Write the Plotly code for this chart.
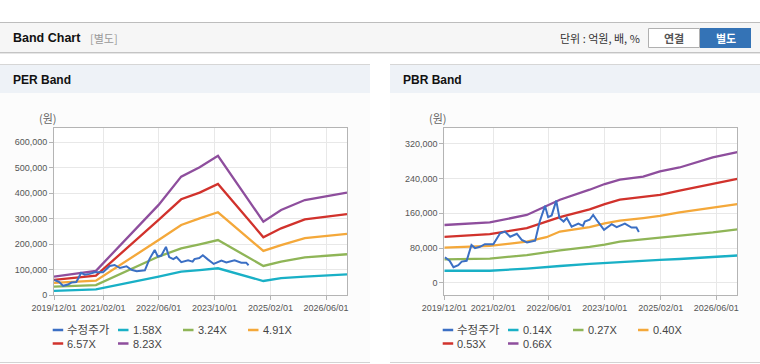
import plotly.graph_objects as go

W, H = 760, 364

# ---------------- data ----------------
tick_dates = ['2019-12-01', '2021-02-01', '2022-06-01', '2023-10-01', '2025-02-01', '2026-06-01']
tick_labels = ['2019/12/01', '2021/02/01', '2022/06/01', '2023/10/01', '2025/02/01', '2026/06/01']

price_dates = ['2019-12-06', '2020-01-16', '2020-02-19', '2020-04-01', '2020-05-01', '2020-06-13',
               '2020-07-25', '2020-08-25', '2020-10-07', '2020-11-19', '2021-02-01', '2021-04-01',
               '2021-05-13', '2021-06-28', '2021-08-25', '2021-10-07', '2021-11-22', '2022-02-01',
               '2022-03-13', '2022-04-28', '2022-05-25', '2022-06-25', '2022-08-04', '2022-09-01',
               '2022-10-07', '2022-11-04', '2022-12-16', '2023-02-13', '2023-03-25', '2023-04-10',
               '2023-05-22', '2023-06-22', '2023-08-04', '2023-09-25', '2023-12-01', '2024-01-13',
               '2024-03-25', '2024-05-22', '2024-07-04', '2024-07-25']
price_values = [59000, 51000, 36000, 41000, 49000, 51000,
                87000, 80000, 83000, 89000, 89000, 114000,
                118000, 106000, 113000, 99000, 93000, 97000,
                141000, 177000, 151000, 155000, 189000, 149000,
                141000, 149000, 129000, 136000, 131000, 141000,
                145000, 156000, 140000, 122000, 135000, 128000,
                136000, 127000, 127000, 117000]

per_dates = ['2019-12-01', '2020-12-01', '2022-06-01', '2022-12-15', '2023-05-25', '2023-11-01',
             '2024-12-01', '2025-05-05', '2025-11-28', '2026-12-01']
per_158 = [16000, 22000, 72000, 92000, 98000, 105000, 55000, 66000, 72000, 81000]
per_324 = [33000, 39000, 151000, 183000, 199000, 216000, 114000, 131000, 148000, 160000]
per_491 = [48000, 56000, 216000, 275000, 301000, 325000, 173000, 196000, 223000, 240000]
per_657 = [59000, 76000, 295000, 376000, 402000, 436000, 227000, 262000, 297000, 318000]
per_823 = [72000, 95000, 354000, 465000, 502000, 547000, 288000, 334000, 373000, 402000]

pbr_dates = ['2019-12-01', '2021-01-01', '2021-11-20', '2022-05-10', '2022-09-05', '2023-05-22',
             '2023-10-01', '2024-02-10', '2024-09-01', '2025-01-25', '2025-07-15', '2026-05-01',
             '2026-12-01']
pbr_014 = [28000, 28000, 33000, 37000, 39000, 44000, 46000, 49000, 51000, 53000, 55000, 59000, 63000]
pbr_027 = [54000, 56000, 64000, 71000, 75000, 83000, 88000, 95000, 100000, 104000, 109000, 116000, 123000]
pbr_040 = [81000, 85000, 95000, 105000, 118000, 128000, 137000, 143000, 149000, 154000, 162000, 172000, 181000]
pbr_053 = [106000, 112000, 126000, 140000, 151000, 169000, 181000, 191000, 197000, 202000, 212000, 227000, 239000]
pbr_066 = [133000, 139000, 156000, 177000, 191000, 214000, 227000, 237000, 244000, 256000, 265000, 288000, 300000]

per_labels = ['수정주가', '1.58X', '3.24X', '4.91X', '6.57X', '8.23X']
pbr_labels = ['수정주가', '0.14X', '0.27X', '0.40X', '0.53X', '0.66X']
colors = ['#3b6fc4', '#19b0c6', '#8fb557', '#f4a83a', '#d1322c', '#8e4e9d']

per_y_ticks = [0, 100000, 200000, 300000, 400000, 500000, 600000]
pbr_y_ticks = [0, 80000, 160000, 240000, 320000]

# ---------------- helpers ----------------
def px(x):
    return x / W

def py(y):
    return 1 - y / H

FONT = 'Liberation Sans, Noto Sans CJK KR, sans-serif'
KFONT = 'Noto Sans CJK KR, Liberation Sans, sans-serif'

fig = go.Figure()

per_series = [per_158, per_324, per_491, per_657, per_823]
pbr_series = [pbr_014, pbr_027, pbr_040, pbr_053, pbr_066]

for vals, c in zip(per_series, colors[1:]):
    fig.add_trace(go.Scatter(x=per_dates, y=vals, mode='lines', line=dict(color=c, width=2.3),
                             xaxis='x', yaxis='y', showlegend=False, hoverinfo='skip'))
fig.add_trace(go.Scatter(x=price_dates, y=price_values, mode='lines', line=dict(color=colors[0], width=2),
                         xaxis='x', yaxis='y', showlegend=False, hoverinfo='skip'))

for vals, c in zip(pbr_series, colors[1:]):
    fig.add_trace(go.Scatter(x=pbr_dates, y=vals, mode='lines', line=dict(color=c, width=2.3),
                             xaxis='x2', yaxis='y2', showlegend=False, hoverinfo='skip'))
fig.add_trace(go.Scatter(x=price_dates, y=price_values, mode='lines', line=dict(color=colors[0], width=2),
                         xaxis='x2', yaxis='y2', showlegend=False, hoverinfo='skip'))

shapes = []
annotations = []

def rect(x0, y0, x1, y1, fill, line=None, layer='below'):
    shapes.append(dict(type='rect', xref='paper', yref='paper', x0=px(x0), x1=px(x1), y0=py(y1), y1=py(y0),
                       fillcolor=fill, line=dict(width=1 if line else 0, color=line or fill), layer=layer))

def hline(x0, x1, y, color, width=1, layer='below'):
    shapes.append(dict(type='line', xref='paper', yref='paper', x0=px(x0), x1=px(x1), y0=py(y), y1=py(y),
                       line=dict(color=color, width=width), layer=layer))

def text(x, y, s, size=11, color='#333', bold=False, anchor='left', family=KFONT):
    if bold:
        s = '<b>' + s + '</b>'
    annotations.append(dict(xref='paper', yref='paper', x=px(x), y=py(y), text=s, showarrow=False,
                            xanchor=anchor, yanchor='middle', font=dict(size=size, color=color, family=family)))

# header
rect(0, 22.5, 760, 52.5, '#f6f6f6')
hline(0, 760, 22.5, '#bdbdbd')
hline(0, 760, 52.5, '#c4c4c4')
hline(0, 760, 53.5, '#e6e6e6')
text(11, 38, 'Band Chart', size=12.5, color='#111', bold=True, family=FONT)
text(88, 38.5, '[별도]', size=11, color='#999')
text(642, 38.5, '단위 : 억원, 배, %', size=11, color='#333', anchor='right')
rect(648.5, 28.5, 699.5, 47.5, '#ffffff', line='#b0b0b0', layer='above')
rect(700, 28, 751, 48, '#3473b6', layer='above')
text(674, 38, '연결', size=11, color='#555', bold=True, anchor='center')
text(725.5, 38, '별도', size=11, color='#ffffff', bold=True, anchor='center')

# panels
for ox, title in [(0, 'PER Band'), (390, 'PBR Band')]:
    rect(ox, 64, ox + 370, 362, '#fcfcfc')
    rect(ox, 64, ox + 370, 93, '#eef2f7')
    hline(ox, ox + 370, 64.5, '#d6d6d6')
    hline(ox, ox + 370, 362.5, '#d3d3d3')
    text(ox + 11, 79.5, title, size=12, color='#111', bold=True, family=FONT)
    text(ox + 37, 118, '(원)', size=11, color='#666')

# plot area backgrounds
rect(54, 128, 347, 295, '#ffffff')
rect(444.3, 128, 737.3, 295, '#ffffff')

# legends
leg_pos = [(52.7, 330), (118, 330), (183, 330), (248, 330), (52.7, 343.5), (118, 343.5)]
for ox, labels in [(0, per_labels), (390, pbr_labels)]:
    for (lx, ly), lab, c in zip(leg_pos, labels, colors):
        hline(ox + lx, ox + lx + 10.5, ly, c, width=2.5, layer='above')
        text(ox + lx + 12.5, ly, lab, size=11.5 if lab == '수정주가' else 11, color='#444', family=FONT)

axis_common = dict(showgrid=True, gridcolor='#e8e8e8', gridwidth=1, showline=True, linecolor='#b4b4b4',
                   linewidth=1, mirror=True, ticks='outside', ticklen=4, tickcolor='#b4b4b4',
                   tickfont=dict(size=9, color='#555', family=FONT), zeroline=False, fixedrange=True,
                   automargin=False)

xr = ['2019-12-01', '2026-12-01']
fig.update_layout(
    width=W, height=H, margin=dict(l=0, r=0, t=0, b=0, pad=0, autoexpand=False),
    paper_bgcolor='#ffffff', plot_bgcolor='rgba(0,0,0,0)',
    showlegend=False, hovermode=False,
    xaxis=dict(domain=[px(54), px(347)], type='date', range=xr, tickmode='array', tickvals=tick_dates,
               ticktext=tick_labels, anchor='y', **axis_common),
    yaxis=dict(domain=[py(295), py(128)], range=[0, 656000], tickmode='array', tickvals=per_y_ticks,
               tickformat=',d', anchor='x', **axis_common),
    xaxis2=dict(domain=[px(444.3), px(737.3)], type='date', range=xr, tickmode='array', tickvals=tick_dates,
                ticktext=tick_labels, anchor='y2', **axis_common),
    yaxis2=dict(domain=[py(295), py(128)], range=[-27600, 355600], tickmode='array', tickvals=pbr_y_ticks,
                tickformat=',d', anchor='x2', **axis_common),
    shapes=shapes, annotations=annotations,
)

fig.write_html('out.html', config={'displayModeBar': False},
               post_script="document.body.style.margin='0';document.body.style.overflow='hidden';")
